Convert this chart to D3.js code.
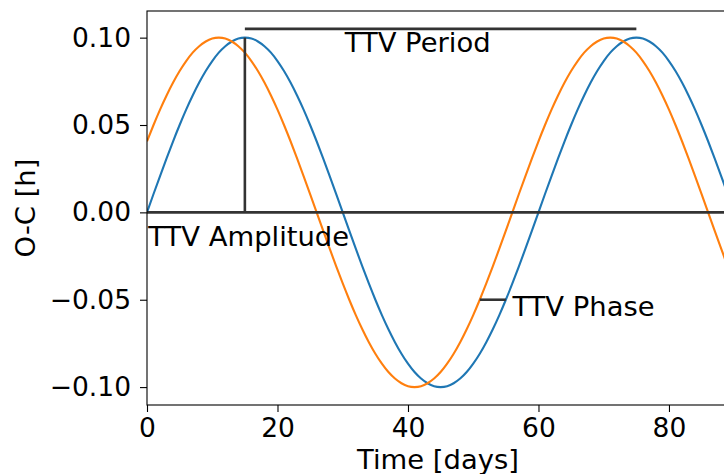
<!DOCTYPE html>
<html>
<head>
<meta charset="utf-8">
<script src="https://cdn.jsdelivr.net/npm/d3@7"></script>
<style>
  html, body { margin: 0; padding: 0; background: #fff; overflow: hidden; }
  text { font-family: "DejaVu Sans", sans-serif; fill: #000; }
</style>
</head>
<body>
<svg id="chart" width="724" height="474"></svg>
<script>
// ---- data ----
const days = d3.range(0, 91); // 0..90 days, one sample per day
const ttvSeries = [
  0.0000, 0.0105, 0.0208, 0.0309, 0.0407, 0.0500, 0.0588, 0.0669, 0.0743, 0.0809,
  0.0866, 0.0914, 0.0951, 0.0978, 0.0995, 0.1000, 0.0995, 0.0978, 0.0951, 0.0914,
  0.0866, 0.0809, 0.0743, 0.0669, 0.0588, 0.0500, 0.0407, 0.0309, 0.0208, 0.0105,
  0.0000, -0.0105, -0.0208, -0.0309, -0.0407, -0.0500, -0.0588, -0.0669, -0.0743, -0.0809,
  -0.0866, -0.0914, -0.0951, -0.0978, -0.0995, -0.1000, -0.0995, -0.0978, -0.0951, -0.0914,
  -0.0866, -0.0809, -0.0743, -0.0669, -0.0588, -0.0500, -0.0407, -0.0309, -0.0208, -0.0105,
  0.0000, 0.0105, 0.0208, 0.0309, 0.0407, 0.0500, 0.0588, 0.0669, 0.0743, 0.0809,
  0.0866, 0.0914, 0.0951, 0.0978, 0.0995, 0.1000, 0.0995, 0.0978, 0.0951, 0.0914,
  0.0866, 0.0809, 0.0743, 0.0669, 0.0588, 0.0500, 0.0407, 0.0309, 0.0208, 0.0105,
  0.0000
];
const shiftedSeries = [
  0.0407, 0.0500, 0.0588, 0.0669, 0.0743, 0.0809, 0.0866, 0.0914, 0.0951, 0.0978,
  0.0995, 0.1000, 0.0995, 0.0978, 0.0951, 0.0914, 0.0866, 0.0809, 0.0743, 0.0669,
  0.0588, 0.0500, 0.0407, 0.0309, 0.0208, 0.0105, 0.0000, -0.0105, -0.0208, -0.0309,
  -0.0407, -0.0500, -0.0588, -0.0669, -0.0743, -0.0809, -0.0866, -0.0914, -0.0951, -0.0978,
  -0.0995, -0.1000, -0.0995, -0.0978, -0.0951, -0.0914, -0.0866, -0.0809, -0.0743, -0.0669,
  -0.0588, -0.0500, -0.0407, -0.0309, -0.0208, -0.0105, 0.0000, 0.0105, 0.0208, 0.0309,
  0.0407, 0.0500, 0.0588, 0.0669, 0.0743, 0.0809, 0.0866, 0.0914, 0.0951, 0.0978,
  0.0995, 0.1000, 0.0995, 0.0978, 0.0951, 0.0914, 0.0866, 0.0809, 0.0743, 0.0669,
  0.0588, 0.0500, 0.0407, 0.0309, 0.0208, 0.0105, 0.0000, -0.0105, -0.0208, -0.0309,
  -0.0407
];
const xTicks = [0, 20, 40, 60, 80];
const yTicks = [-0.10, -0.05, 0.00, 0.05, 0.10];
const xDomain = [0, 89.2];
const yDomain = [-0.11025, 0.11525];
// annotation segments [x1, y1, x2, y2] in data units
const annoSegments = [
  [0, 0, 90, 0],          // zero line
  [15, 0, 15, 0.1],       // amplitude
  [15, 0.105, 75, 0.105], // period
  [51, -0.05, 55, -0.05]  // phase
];
const annoLabels = [
  { text: "TTV Period", x: 30.3, y: 0.0915 },
  { text: "TTV Amplitude", x: 0.2, y: -0.019 },
  { text: "TTV Phase", x: 56, y: -0.0595 }
];
const xLabel = "Time [days]";
const yLabel = "O-C [h]";

// ---- layout ----
const L = 147, R = 729, T = 11, B = 405;
const FS = 26.5, LFS = 27.4;
const svg = d3.select("#chart");
const x = d3.scaleLinear().domain(xDomain).range([L, R]);
const y = d3.scaleLinear().domain(yDomain).range([B, T]);

svg.append("defs").append("clipPath").attr("id", "clip")
  .append("rect").attr("x", L).attr("y", T).attr("width", R - L).attr("height", B - T);

const plot = svg.append("g").attr("clip-path", "url(#clip)");

const line = d3.line().x((d, i) => x(days[i])).y(d => y(d)).curve(d3.curveNatural);
plot.append("path").datum(ttvSeries).attr("d", line)
  .attr("fill", "none").attr("stroke", "#1f77b4").attr("stroke-width", 2.1);
plot.append("path").datum(shiftedSeries).attr("d", line)
  .attr("fill", "none").attr("stroke", "#ff7f0e").attr("stroke-width", 2.1);

plot.selectAll("line.anno").data(annoSegments).enter().append("line")
  .attr("class", "anno")
  .attr("x1", d => x(d[0])).attr("y1", d => y(d[1]))
  .attr("x2", d => x(d[2])).attr("y2", d => y(d[3]))
  .attr("stroke", "#333").attr("stroke-width", 2.6);

svg.selectAll("text.anno").data(annoLabels).enter().append("text")
  .attr("class", "anno")
  .attr("x", d => x(d.x)).attr("y", d => y(d.y))
  .attr("font-size", LFS).text(d => d.text);

// axes
const xAxis = d3.axisBottom(x).tickValues(xTicks).tickFormat(d3.format("d"))
  .tickSize(7).tickPadding(6);
const yAxis = d3.axisLeft(y).tickValues(yTicks)
  .tickFormat(d => d3.format(".2f")(d).replace("-", "\u2212"))
  .tickSize(7).tickPadding(9);

const gx = svg.append("g").attr("transform", `translate(0,${B})`).call(xAxis);
const gy = svg.append("g").attr("transform", `translate(${L},0)`).call(yAxis);
[gx, gy].forEach(g => {
  g.select(".domain").remove();
  g.selectAll(".tick line").attr("stroke", "#000").attr("stroke-width", 1.1);
  g.selectAll(".tick text").attr("font-size", FS).attr("font-family", "DejaVu Sans").attr("fill", "#000");
});

// spines
svg.append("rect").attr("x", L).attr("y", T).attr("width", R - L).attr("height", B - T)
  .attr("fill", "none").attr("stroke", "#000").attr("stroke-width", 1.1);

svg.append("text").attr("x", (L + R) / 2).attr("y", 469)
  .attr("text-anchor", "middle").attr("font-size", LFS).text(xLabel);
svg.append("text").attr("transform", `translate(35,${(T + B) / 2}) rotate(-90)`)
  .attr("text-anchor", "middle").attr("font-size", LFS).text(yLabel);
</script>
</body>
</html>
